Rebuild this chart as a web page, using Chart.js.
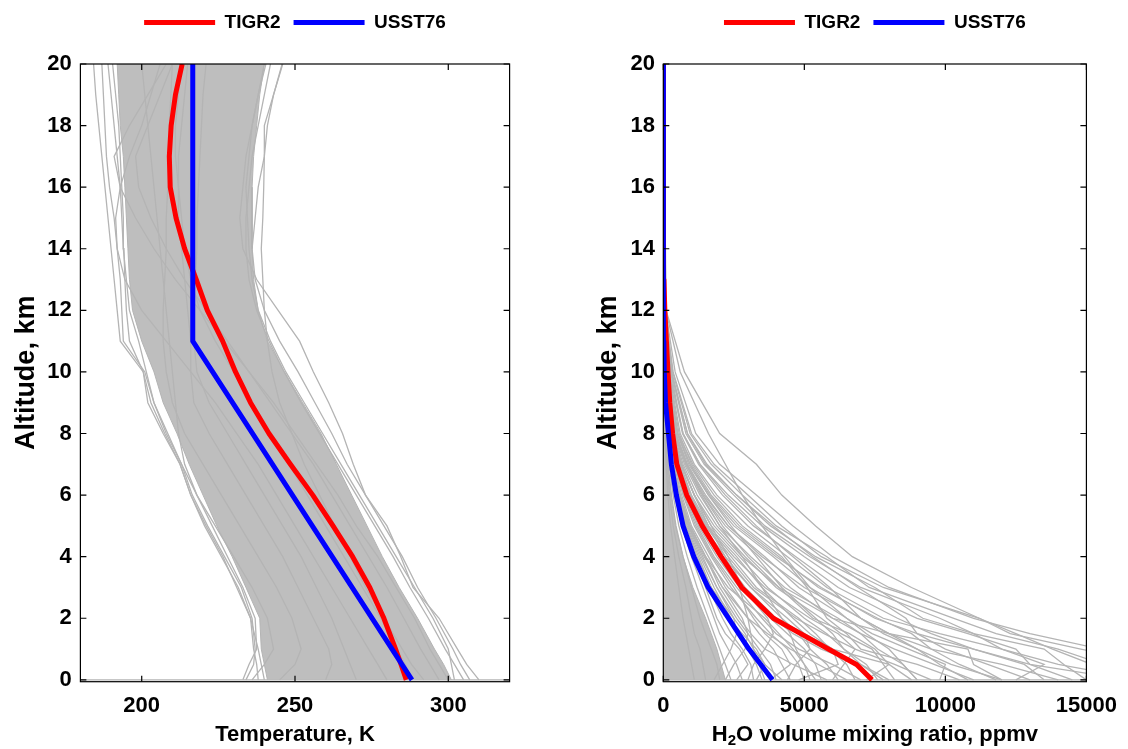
<!DOCTYPE html>
<html>
<head>
<meta charset="utf-8">
<title>TIGR2 / USST76 profiles</title>
<script src="https://cdn.jsdelivr.net/npm/chart.js@4.4.1/dist/chart.umd.min.js"></script>
<style>
  html, body { margin: 0; padding: 0; background: #fff; }
  #wrap { position: relative; width: 1128px; height: 749px; }
  #wrap canvas { position: absolute; top: 0; }
</style>
</head>
<body>
<div id="wrap">
  <canvas id="tempChart" width="580" height="749" style="left:0"></canvas>
  <canvas id="wvChart" width="548" height="749" style="left:580px"></canvas>
</div>
<script>
// axis ticks
const altTicks = [0, 2, 4, 6, 8, 10, 12, 14, 16, 18, 20];
const tempTicks = [200, 250, 300];
const wvTicks = [0, 5000, 10000, 15000];

// ---- temperature panel (K) ----
const tempAlt = [0, 0.5, 1, 2, 3, 4, 5, 6, 7, 8, 9, 10, 11, 12, 13, 14, 15, 16, 17, 18, 19, 20];
const tigrTemp = [286.3, 284.6, 282.8, 279.0, 274.4, 268.8, 262.4, 255.8, 248.5, 241.5, 235.5, 230.6, 226.4, 221.4, 217.8, 214.0, 211.2, 209.3, 209.0, 209.6, 211.0, 213.2];
const usAltT = [0, 11, 20];
const usTemp = [288.15, 216.65, 216.65];

// dense part of the TIGR2 cloud (cold and warm edge)
const tempBandLow = [241, 240, 239, 238.5, 234, 229.5, 224.5, 220, 215.5, 211.5, 207, 204, 200, 197, 196, 195.5, 195, 194.5, 194, 193, 192.5, 192];
const tempBandHigh = [301, 298.5, 295.5, 290, 284, 278.5, 273.5, 268.5, 263.5, 258.5, 252.5, 246.5, 241, 238, 236.5, 236, 236, 236, 236.5, 237.5, 238.5, 240];

// single profiles that stand out of the cloud
const tempLines = [
  [238, 237.5, 236.5, 235.5, 231.5, 226, 220.5, 216, 212.5, 207.5, 203, 200.5, 193, 192, 191, 190, 189, 188, 187, 186, 185, 184.3],
  [234, 236.5, 237, 236, 232.5, 227, 221.5, 216.5, 213, 208, 204, 201, 194, 193.5, 193, 192, 191, 189.5, 188.5, 188, 187.5, 187],
  [280, 277, 274, 268, 262, 256, 250, 244, 238, 231, 224, 216, 208, 200, 194.5, 192, 191.5, 193, 196, 200, 203, 206],
  [300, 297, 294, 289, 283, 277, 270, 264, 257, 250, 243, 235, 227, 219, 211, 204, 198, 193, 191, 196, 202, 208],
  [310, 306, 303, 297, 288.5, 284.5, 280, 273, 269, 265.5, 261, 256, 251.5, 244.5, 237.5, 233, 232, 233, 234, 236, 238, 240],
  [307, 304, 301.5, 296, 290, 285, 279, 273, 267, 262, 256.5, 251, 245, 240, 237, 236, 237, 238, 240, 241, 243, 246],
  [292, 288, 285, 279, 273, 268, 263, 258, 253, 249, 245, 242.5, 241, 240, 239.5, 239, 239.5, 239.8, 240, 240, 243, 245.8],
  [233, 235, 237.5, 237, 233, 228, 223, 218, 213, 208.5, 204, 201.5, 199, 196, 195, 194, 193.5, 193, 192, 191, 190, 189],
  [240, 239, 238, 235.5, 231, 226.5, 221, 216, 212.5, 207, 202, 200.5, 196, 195, 194.5, 194.2, 194, 193.5, 193, 192.5, 191.5, 190.5],
  [305, 302, 299, 293.5, 287.5, 282, 276, 270, 264, 258, 252, 246.5, 241.5, 237.5, 235, 234, 234, 235, 236, 238, 240, 242],
  [302, 301, 300, 295, 289, 283, 277, 271, 265, 259, 253, 247, 242, 238, 236, 235, 234.5, 234, 235, 236, 238, 240.5],
  [245, 250, 252, 249, 244, 238, 232, 226, 220, 214, 210, 208, 207, 207, 207.5, 208, 208, 208.5, 209, 209, 209.5, 210],
  [236, 240, 243, 241, 236, 230, 224, 218, 214, 212, 211, 210, 209, 208, 207, 206, 205, 204, 203, 202, 201, 200],
  [297, 294, 291, 285.5, 280, 274, 268, 262, 256, 249, 242, 235, 228, 221, 214, 208, 203, 199, 198, 202, 206, 210],
  [288, 286, 283, 278, 272, 266, 260, 254, 248, 242, 236, 230, 224, 219, 216, 214, 213, 212, 212, 213, 214, 215],
  [270, 268, 266, 262, 257, 252, 246, 240, 234, 228, 222, 218, 217, 217, 217.5, 218, 218, 218.5, 219, 219.5, 220, 221],
  [260, 262, 261, 256, 251, 246, 240, 234, 228, 222, 217, 216, 216, 215, 214, 213, 212, 212, 211, 211, 212, 213]
];
// profile with a bad surface value, drawn flat along 0 km
const tempFlatAlt = [0, 0];
const tempFlat = [325, 175];

// ---- water vapour panel (ppmv) ----
const tigrWvAlt = [0, 0.5, 1, 1.5, 2, 3, 4, 5, 6, 7, 8, 9, 10, 11, 12, 13, 14, 15, 16, 17, 18, 19, 20];
const tigrWv = [7400, 6850, 5850, 4870, 3900, 2780, 2050, 1380, 830, 480, 330, 230, 165, 110, 55, 22, 9, 5, 4, 4, 4, 4, 4];
const usWvAlt = [0, 1, 2, 3, 4, 5, 6, 7, 8, 9, 10, 11, 12, 13, 14, 15, 16, 17, 18, 19, 20];
const usWv = [3870, 3035, 2315, 1590, 1080, 700, 463, 286, 183, 79, 35, 18, 9.5, 5.4, 3, 2.5, 2, 1.9, 1.9, 1.9, 1.95];

const wvAlt = [0, 0.5, 1, 1.5, 2, 3, 4, 5, 6, 7, 8, 10, 12, 20];
const wvBandLow = [0, 0, 0, 0, 0, 0, 0, 0, 0, 0, 0, 0, 0, 0];
const wvBandHigh = [2200, 2050, 1900, 1700, 1500, 1050, 700, 430, 260, 160, 100, 45, 15, 8];
const wvLines = [
  [19000, 17500, 14800, 12300, 11200, 8800, 6700, 5400, 4200, 3300, 2000, 750, 100, 4],
  [18000, 16800, 15500, 13000, 11000, 8000, 6000, 4600, 3300, 2000, 1150, 420, 80, 4],
  [15500, 15200, 13800, 12500, 11200, 7800, 5600, 4200, 3000, 1800, 1000, 350, 60, 4],
  [17000, 14000, 12000, 11000, 9200, 7500, 5400, 3800, 2600, 1500, 850, 300, 50, 4],
  [14500, 13000, 12500, 10800, 9000, 6600, 5000, 3500, 2300, 1300, 700, 260, 45, 4],
  [13500, 12800, 11000, 9500, 8300, 6200, 4700, 3200, 2100, 1250, 680, 220, 40, 4],
  [12500, 13500, 12000, 9800, 7800, 5800, 4400, 3000, 1900, 1100, 600, 200, 35, 4],
  [11800, 10500, 9500, 8800, 7600, 5500, 4100, 2700, 1700, 1000, 560, 180, 30, 4],
  [10800, 9800, 9000, 8000, 7000, 5200, 3900, 2500, 1600, 900, 500, 150, 25, 4],
  [9800, 10000, 8700, 7400, 6500, 4800, 3600, 2300, 1500, 850, 450, 140, 25, 4],
  [12000, 11000, 10800, 8000, 6000, 4500, 3400, 2200, 1400, 800, 420, 130, 20, 4],
  [9000, 8500, 7600, 7000, 6200, 4300, 3100, 2000, 1300, 750, 400, 120, 20, 4],
  [8200, 7800, 7400, 6300, 5600, 4000, 2900, 1900, 1200, 700, 380, 110, 18, 4],
  [7600, 7200, 6400, 5800, 5000, 3700, 2700, 1700, 1100, 650, 350, 100, 18, 4],
  [8800, 8000, 6000, 5200, 4600, 3500, 2600, 1600, 1000, 600, 320, 90, 15, 4],
  [6800, 6500, 5900, 5400, 4800, 3300, 2400, 1500, 950, 560, 300, 85, 15, 4],
  [6200, 5800, 5200, 4800, 4200, 3100, 2200, 1400, 880, 520, 270, 80, 14, 4],
  [5600, 5400, 5000, 4400, 3800, 2800, 2000, 1300, 800, 480, 250, 75, 12, 4],
  [7000, 6000, 4800, 4000, 3500, 2600, 1800, 1200, 750, 440, 230, 70, 12, 4],
  [5000, 4800, 4400, 3800, 3300, 2400, 1700, 1100, 700, 400, 210, 60, 10, 4],
  [4500, 4200, 3900, 3400, 3000, 2200, 1600, 1000, 650, 370, 190, 55, 10, 4],
  [5800, 4600, 3600, 3100, 2700, 2000, 1500, 950, 600, 340, 170, 50, 9, 4],
  [4000, 3800, 3400, 3000, 2600, 1900, 1400, 900, 560, 320, 160, 45, 9, 4],
  [3500, 3300, 3000, 2700, 2400, 1800, 1300, 850, 520, 300, 150, 40, 8, 4],
  [3200, 3100, 2800, 2400, 2100, 1600, 1150, 750, 460, 270, 130, 35, 8, 4],
  [2800, 2600, 2300, 2000, 1800, 1400, 1000, 650, 400, 230, 110, 30, 7, 4],
  [2400, 2200, 2000, 1800, 1600, 1200, 850, 550, 350, 200, 95, 25, 6, 4],
  [10500, 9000, 7000, 6500, 5800, 5100, 4200, 2800, 1800, 1050, 520, 160, 28, 4],
  [7200, 8000, 7500, 6600, 5300, 4100, 3000, 2100, 1400, 820, 430, 135, 22, 4],
  [4800, 6200, 6000, 5000, 4000, 2900, 2100, 1350, 850, 500, 260, 72, 12, 4],
  [3800, 4500, 4200, 3600, 3200, 2500, 1750, 1150, 720, 420, 215, 62, 11, 4],
  [15000, 14200, 13500, 11000, 9800, 7000, 5200, 3600, 2500, 1450, 800, 280, 48, 4],
  [16000, 15600, 14000, 11800, 10300, 7300, 5800, 4000, 2800, 1700, 950, 330, 55, 4],
  [3000, 3200, 3600, 3900, 3700, 2800, 2300, 1700, 1100, 650, 330, 90, 15, 4],
  [6000, 6400, 6800, 6200, 5200, 3600, 2500, 1550, 960, 560, 290, 80, 14, 4],
  [13000, 11500, 10000, 9000, 8600, 6900, 5300, 3900, 2600, 1550, 860, 260, 42, 4],
  [2000, 1900, 1700, 1500, 1300, 1000, 700, 450, 290, 170, 80, 22, 6, 4],
  [1500, 1400, 1300, 1100, 1000, 800, 550, 350, 220, 130, 65, 18, 5, 4],
  [1100, 1000, 900, 800, 700, 550, 400, 260, 160, 100, 50, 15, 5, 3],
  [2600, 3000, 2700, 2200, 1900, 1500, 1100, 700, 420, 240, 120, 32, 7, 4],
  [4200, 3600, 3200, 2900, 2500, 1700, 1200, 800, 480, 280, 140, 38, 8, 4],
  [3300, 3600, 3300, 2800, 2300, 1700, 1250, 820, 500, 290, 145, 40, 8, 4],
  [5200, 5000, 4600, 4100, 3600, 2300, 1500, 950, 580, 330, 165, 45, 9, 4],
  [6500, 5500, 4500, 3700, 3000, 2100, 1450, 900, 560, 320, 160, 44, 9, 4],
  [8000, 7000, 5600, 4600, 3900, 2700, 1900, 1250, 780, 450, 230, 65, 12, 4],
  [9500, 8200, 6800, 5700, 4700, 3200, 2300, 1500, 900, 520, 270, 75, 13, 4],
  [11000, 9600, 8200, 7000, 6000, 4100, 2800, 1800, 1100, 620, 320, 90, 15, 4],
  [2200, 2500, 2900, 3000, 2800, 2100, 1500, 950, 600, 340, 170, 45, 9, 4],
  [1800, 2100, 2400, 2600, 2500, 1900, 1350, 880, 540, 310, 150, 42, 8, 4],
  [4400, 4700, 5200, 5000, 4400, 3100, 2100, 1300, 800, 460, 230, 62, 11, 4],
  [7800, 7000, 6400, 6000, 5400, 4200, 3300, 2400, 1600, 950, 500, 140, 22, 4],
  [5400, 5000, 4700, 4500, 4200, 3500, 2800, 2000, 1350, 800, 420, 120, 20, 4],
  [3600, 3400, 3200, 3100, 3000, 2700, 2200, 1600, 1100, 650, 340, 95, 16, 4],
  [14000, 12000, 9500, 8000, 7000, 5000, 3500, 2300, 1450, 850, 440, 125, 20, 4],
  [16500, 13000, 11000, 9000, 7500, 5600, 4000, 2600, 1650, 950, 500, 140, 22, 4],
  [12000, 10200, 9000, 7800, 7000, 5900, 4600, 3300, 2200, 1300, 700, 200, 30, 4],
  [9000, 8500, 8000, 7200, 6500, 5200, 4300, 3500, 2800, 2200, 1600, 600, 90, 4]
];
const wvFlatAlt = [0, 0];
const wvFlat = [16000, 0];

const FONT = '"Liberation Sans", Arial, Helvetica, sans-serif';
const GRAY = '#b4b4b4';
const BAND = '#bebebe';

Chart.defaults.font.family = FONT;
Chart.defaults.font.weight = 'bold';
Chart.defaults.color = '#000';

function prof(xs, alts) {
  return xs.map((v, i) => ({ x: v, y: alts[i] }));
}

function grayLine(xs, alts) {
  return { data: prof(xs, alts), showLine: true, borderColor: GRAY, borderWidth: 1.3,
           pointRadius: 0, fill: false, order: 2 };
}

function grayBand(lo, hi, alts) {
  const pts = prof(lo, alts).concat(prof(hi, alts).reverse());
  return { data: pts, showLine: true, borderColor: GRAY, borderWidth: 1, backgroundColor: BAND,
           fill: 'shape', pointRadius: 0, order: 3 };
}

function mainLine(label, color, xs, alts, order) {
  return { label: label, data: prof(xs, alts), showLine: true, borderColor: color, backgroundColor: color,
           borderWidth: 5, pointBorderWidth: 5, borderJoinStyle: 'round', pointRadius: 0, order: order };
}

// box round the plot and inward tick marks on all four sides
const frame = {
  id: 'frame',
  afterDatasetsDraw(chart) {
    const { ctx, chartArea: a, scales } = chart;
    ctx.save();
    ctx.strokeStyle = '#000';
    ctx.lineWidth = 1.2;
    ctx.strokeRect(a.left, a.top, a.right - a.left, a.bottom - a.top);
    ctx.beginPath();
    scales.x.ticks.forEach(t => {
      const px = scales.x.getPixelForValue(t.value);
      ctx.moveTo(px, a.bottom); ctx.lineTo(px, a.bottom - 6);
      ctx.moveTo(px, a.top); ctx.lineTo(px, a.top + 6);
    });
    scales.y.ticks.forEach(t => {
      const py = scales.y.getPixelForValue(t.value);
      ctx.moveTo(a.left, py); ctx.lineTo(a.left + 6, py);
      ctx.moveTo(a.right, py); ctx.lineTo(a.right - 6, py);
    });
    ctx.stroke();
    ctx.restore();
  }
};

// x title with a real subscript for the water vapour panel
const wvTitle = {
  id: 'wvTitle',
  afterDraw(chart) {
    const { ctx } = chart;
    const sx = chart.scales.x;
    const y = sx.bottom - 1 - 22 * 1.2 / 2;
    const big = 'bold 22px ' + FONT;
    const small = 'bold 15px ' + FONT;
    const parts = [['H', big, 0], ['2', small, 6], ['O volume mixing ratio, ppmv', big, 0]];
    ctx.save();
    ctx.fillStyle = '#000';
    ctx.textBaseline = 'middle';
    ctx.textAlign = 'left';
    let w = 0;
    parts.forEach(p => { ctx.font = p[1]; w += ctx.measureText(p[0]).width; });
    let x = (sx.left + sx.right) / 2 - w / 2;
    parts.forEach(p => {
      ctx.font = p[1];
      ctx.fillText(p[0], x, y + p[2]);
      x += ctx.measureText(p[0]).width;
    });
    ctx.restore();
  }
};

function makePanel(id, o) {
  return new Chart(document.getElementById(id), {
    type: 'scatter',
    data: { datasets: o.datasets },
    options: {
      responsive: false,
      animation: false,
      events: [],
      layout: { padding: { left: 0, right: o.rightPad, top: 0, bottom: 0 } },
      plugins: {
        tooltip: { enabled: false },
        legend: {
          display: true,
          position: 'top',
          fullSize: false,
          labels: {
            filter: it => it.datasetIndex < 2,
            sort: (a, b) => a.datasetIndex - b.datasetIndex,
            usePointStyle: true,
            pointStyle: 'line',
            pointStyleWidth: 71,
            padding: 13,
            color: '#000',
            font: { size: 19, weight: 'bold' }
          }
        }
      },
      scales: {
        x: {
          type: 'linear', position: 'bottom', min: o.xMin, max: o.xMax,
          afterBuildTicks: s => { s.ticks = o.xTicks.map(v => ({ value: v })); },
          afterFit: s => { s.height = 67.3; },
          grid: { display: false, drawTicks: false },
          border: { display: false },
          ticks: { font: { size: 22 }, padding: 11, maxRotation: 0, callback: v => String(v) },
          title: { display: !!o.xTitle, text: o.xTitle || '', font: { size: 22 }, padding: { top: 0, bottom: 1 } }
        },
        xTop: {
          type: 'linear', position: 'top', display: true, min: o.xMin, max: o.xMax,
          grid: { display: false, drawTicks: false },
          border: { display: false },
          ticks: { display: false },
          afterFit: s => { s.height = 22; }
        },
        y: {
          type: 'linear', position: 'left', min: -0.06, max: 20,
          afterBuildTicks: s => { s.ticks = altTicks.map(v => ({ value: v })); },
          afterFit: s => { s.width = o.yWidth; },
          grid: { display: false, drawTicks: false },
          border: { display: false },
          ticks: { font: { size: 22 }, padding: o.yLabelPad, callback: v => String(v) },
          title: { display: true, text: 'Altitude, km', font: { size: 27 }, padding: { top: o.yTitlePad, bottom: 0 } }
        }
      }
    },
    plugins: o.plugins
  });
}

const tempSets = [
  mainLine('TIGR2', '#ff0000', tigrTemp, tempAlt, 1),
  mainLine('USST76', '#0000ff', usTemp, usAltT, 0),
  grayBand(tempBandLow, tempBandHigh, tempAlt)
].concat(tempLines.map(l => grayLine(l, tempAlt)), [grayLine(tempFlat, tempFlatAlt)]);

const wvSets = [
  mainLine('TIGR2', '#ff0000', tigrWv, tigrWvAlt, 1),
  mainLine('USST76', '#0000ff', usWv, usWvAlt, 0),
  grayBand(wvBandLow, wvBandHigh, wvAlt)
].concat(wvLines.map(l => grayLine(l, wvAlt)), [grayLine(wvFlat, wvFlatAlt)]);

makePanel('tempChart', {
  datasets: tempSets, xMin: 180, xMax: 320, xTicks: tempTicks, xTitle: 'Temperature, K',
  rightPad: 70.4, yWidth: 80.4, yLabelPad: 8.7, yTitlePad: 10, plugins: [frame]
});

makePanel('wvChart', {
  datasets: wvSets, xMin: 0, xMax: 15000, xTicks: wvTicks, xTitle: null,
  rightPad: 35, yWidth: 83.3, yLabelPad: 8.3, yTitlePad: 12.8, plugins: [frame, wvTitle]
});
</script>
</body>
</html>
